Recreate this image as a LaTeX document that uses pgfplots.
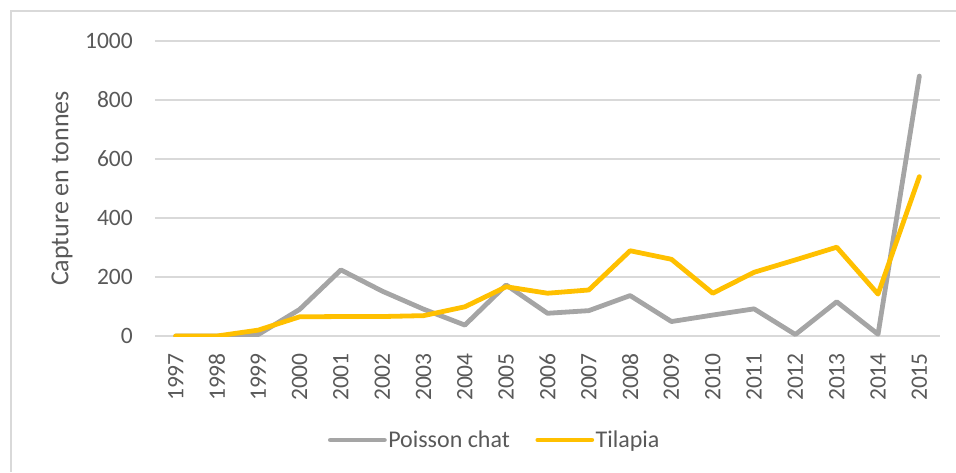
\documentclass[border=0pt]{standalone}
\usepackage{pgfplots}
\pgfplotsset{compat=1.18}
\usepackage{fontspec}
\setmainfont{Carlito}
\definecolor{gridc}{HTML}{D9D9D9}
\definecolor{txt}{HTML}{595959}
\definecolor{pgray}{HTML}{A5A5A5}
\definecolor{tyel}{HTML}{FFC000}
\begin{document}
\begin{tikzpicture}[x=1pt,y=1pt]
\useasboundingbox (0,0) rectangle (956,472);
\draw[gridc, line width=1.3pt] (11,0) -- (11,461) -- (956,461);
\begin{axis}[
  at={(155pt,136pt)}, anchor=south west,
  scale only axis, width=785pt, height=295pt,
  xmin=-0.5, xmax=18.5, ymin=0, ymax=1000,
  xtick={0,...,18},
  xticklabels={1997,1998,1999,2000,2001,2002,2003,2004,2005,2006,2007,2008,2009,2010,2011,2012,2013,2014,2015},
  ytick={0,200,400,600,800,1000},
  ymajorgrids, grid style={gridc, line width=1.3pt},
  axis line style={draw=none},
  major tick length=0pt,
  tick label style={font=\fontsize{23.5}{27}\selectfont, text=txt},
  /pgf/number format/assume math mode=true,
  /pgf/number format/1000 sep={},
  yticklabel style={anchor=east, inner sep=0pt},
  yticklabel shift=22pt,
  xticklabel style={rotate=90, anchor=east, inner sep=0pt},
  xticklabel shift=17pt,
  ylabel={Capture en tonnes},
  every axis y label/.style={at={([xshift=-93pt]axis description cs:0,0.5)}, rotate=90, anchor=center, font=\fontsize{26}{30}\selectfont, text=txt},
  legend columns=2,
  legend style={at={(axis description cs:0.4325,-0.3525)}, anchor=center, draw=none, fill=none,
    font=\fontsize{24}{28}\selectfont, text=txt,
    nodes={inner sep=1.5pt},
    /tikz/every even column/.append style={column sep=24pt}},
  legend image code/.code={\draw[#1, line cap=round] (0pt,0pt) -- (54pt,0pt);},
  every axis plot/.append style={line width=4.8pt, line cap=round, line join=round, mark=none},
]
\addplot[pgray] coordinates {
(0,0) (1,0) (2,5) (3,90) (4,224) (5,152) (6,91) (7,37) (8,173) (9,77) (10,86) (11,137) (12,49) (13,71) (14,92) (15,5) (16,116) (17,6) (18,881)};
\addlegendentry{Poisson chat}
\addplot[tyel] coordinates {
(0,0) (1,0) (2,20) (3,65) (4,66) (5,66) (6,69) (7,99) (8,167) (9,145) (10,156) (11,289) (12,260) (13,145) (14,216) (15,258) (16,301) (17,142) (18,540)};
\addlegendentry{Tilapia}
\end{axis}
\end{tikzpicture}
\end{document}
